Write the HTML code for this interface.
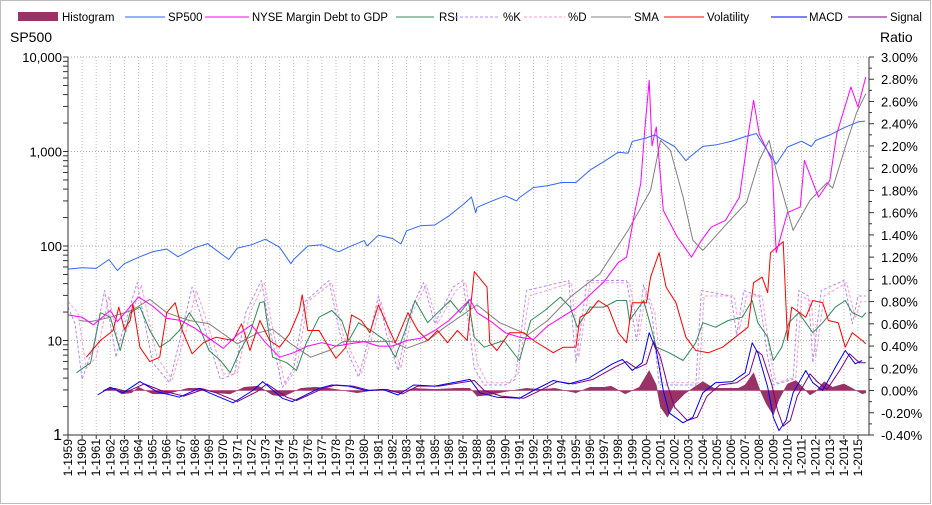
<!DOCTYPE html>
<html><head><meta charset="utf-8"><style>
body{margin:0;background:#fff}
svg{display:block;font-family:"Liberation Sans",sans-serif}
</style></head><body>
<svg id="chart" width="932" height="505" viewBox="0 0 932 505">
<rect x="0.5" y="0.5" width="930" height="503" fill="#fff" stroke="#bdbdbd"/>
<g id="grid"></g>
<g id="series"></g>
<g id="axes"></g>
<g id="legend" font-size="11.5" fill="#000">
  <rect x="18" y="12" width="40" height="9" fill="#993366"/>
  <text x="62" y="21">Histogram</text>
  <line x1="125" y1="17" x2="165" y2="17" stroke="#3366ff"/>
  <text x="168" y="21">SP500</text>
  <line x1="205" y1="17" x2="249" y2="17" stroke="#ff00ff"/>
  <text x="252" y="21" textLength="136" lengthAdjust="spacingAndGlyphs">NYSE Margin Debt to GDP</text>
  <line x1="396" y1="17" x2="434" y2="17" stroke="#2e8b57"/>
  <text x="439" y="21">RSI</text>
  <line x1="455" y1="17" x2="499" y2="17" stroke="#b388ff" stroke-dasharray="3,2"/>
  <text x="503" y="21">%K</text>
  <line x1="524" y1="17" x2="565" y2="17" stroke="#ff99cc" stroke-dasharray="3,2"/>
  <text x="568" y="21">%D</text>
  <line x1="591" y1="17" x2="631" y2="17" stroke="#808080"/>
  <text x="634" y="21">SMA</text>
  <line x1="664" y1="17" x2="704" y2="17" stroke="#ff0000"/>
  <text x="707" y="21">Volatility</text>
  <line x1="771" y1="17" x2="807" y2="17" stroke="#0000ff"/>
  <text x="809" y="21">MACD</text>
  <line x1="848" y1="17" x2="887" y2="17" stroke="#800080"/>
  <text x="890" y="21">Signal</text>
</g>
<text x="10" y="42" font-size="14">SP500</text>
<text x="880" y="42" font-size="14">Ratio</text>
</svg>
<script>
const years = [];for(let y=1959;y<=2015;y++)years.push(y);
const leftTicks=[1,10,100,1000,10000];
const leftTickLabels=["1","10","100","1,000","10,000"];
const rightTicks=[-0.4,-0.2,0,0.2,0.4,0.6,0.8,1.0,1.2,1.4,1.6,1.8,2.0,2.2,2.4,2.6,2.8,3.0];

const spDates=[1959,1960,1961,1961.9,1962.5,1963,1964,1965,1966,1966.8,1967,1968,1968.9,1969,1970.4,1971,1972,1973,1974,1974.8,1975,1976,1977,1978,1978.2,1979,1980,1980.2,1981,1982,1982.6,1983,1984,1985,1986,1987,1987.6,1987.9,1988,1989,1990,1990.8,1991,1992,1993,1994,1995,1996,1997,1998,1998.7,1999,2000,2000.6,2001,2002,2002.8,2003,2004,2005,2006,2007,2007.8,2008,2009,2009.2,2010,2011,2011.7,2012,2013,2014,2015,2015.5];
const spValues=[57,59,58,72,55,65,76,87,93,77,80,96,106,103,72,95,103,118,97,65,72,100,103,89,87,99,114,100,130,120,105,145,164,167,208,274,330,225,257,297,340,300,325,416,435,470,470,636,786,980,960,1280,1394,1500,1366,1130,800,855,1131,1181,1280,1438,1550,1378,825,735,1115,1286,1130,1312,1498,1782,2058,2100];

const marginDates=[1959.0,1960.0,1960.8,1962.0,1962.5,1964.0,1965.0,1966.0,1967.0,1968.0,1969.0,1970.0,1971.0,1972.0,1973.0,1974.0,1975.0,1976.0,1977.0,1978.0,1979.0,1980.0,1981.0,1982.0,1983.0,1984.0,1985.0,1986.0,1987.5,1988.0,1989.0,1990.0,1991.0,1992.0,1993.0,1994.0,1995.0,1996.0,1997.0,1998.0,1998.6,1999.2,1999.6,1999.9,2000.2,2000.4,2000.7,2001.2,2002.2,2003.2,2003.9,2004.6,2005.6,2006.6,2007.3,2007.6,2008.0,2008.9,2009.2,2010.0,2010.9,2011.2,2012.2,2013.0,2013.5,2014.5,2015.0,2015.55];
const marginValues=[0.68,0.66,0.59,0.72,0.62,0.84,0.76,0.65,0.63,0.56,0.47,0.38,0.50,0.59,0.43,0.30,0.34,0.40,0.43,0.40,0.42,0.44,0.40,0.40,0.45,0.47,0.54,0.63,0.82,0.70,0.62,0.52,0.48,0.46,0.58,0.66,0.74,0.86,0.98,1.15,1.20,1.62,1.86,2.37,2.79,2.20,2.37,1.62,1.38,1.20,1.35,1.47,1.53,1.74,2.37,2.61,2.31,2.07,1.24,1.60,1.65,2.07,1.74,1.89,2.31,2.73,2.55,2.82];

const smaDates=[1959.8,1960.6,1962.0,1963.5,1964.8,1966.0,1967.6,1969.0,1971.0,1972.5,1973.5,1974.8,1976.2,1977.5,1978.5,1982.0,1983.0,1984.5,1985.6,1988.0,1989.6,1991.6,1993.0,1994.6,1996.7,1998.7,2000.3,2001.0,2001.7,2002.6,2003.3,2004.0,2005.7,2007.1,2008.0,2008.7,2009.2,2010.4,2011.6,2012.8,2013.2,2014.2,2014.9,2015.55];
const smaValues=[0.63,0.62,0.66,0.72,0.82,0.70,0.63,0.60,0.42,0.52,0.55,0.42,0.30,0.36,0.44,0.44,0.38,0.45,0.56,0.77,0.61,0.50,0.63,0.84,1.05,1.44,1.80,2.25,2.16,1.74,1.35,1.26,1.50,1.69,2.07,2.25,1.98,1.44,1.71,1.87,1.82,2.23,2.50,2.67];

const volDates=[1960.3,1961.3,1962.2,1962.6,1963.0,1963.4,1963.6,1964.1,1964.8,1965.5,1966.0,1966.6,1967.1,1967.8,1968.6,1969.5,1970.7,1971.3,1971.9,1972.6,1973.3,1974.0,1974.7,1975.4,1975.6,1976.0,1976.8,1977.3,1978.0,1978.7,1979.1,1979.8,1980.4,1981.0,1981.7,1982.2,1983.1,1983.8,1984.5,1985.2,1985.9,1986.6,1987.3,1987.8,1988.7,1988.9,1989.4,1990.3,1991.3,1992.0,1993.4,1994.1,1995.0,1995.3,1995.9,1996.6,1997.3,1998.0,1998.6,1999.0,2000.0,2000.3,2000.9,2001.4,2002.1,2002.8,2003.5,2004.4,2005.4,2006.3,2007.2,2007.6,2008.2,2008.6,2008.8,2009.7,2010.0,2010.3,2011.3,2011.8,2012.5,2012.9,2013.6,2014.1,2014.6,2015.3,2015.55];
const volValues=[0.30,0.45,0.54,0.75,0.55,0.63,0.78,0.39,0.26,0.30,0.70,0.79,0.54,0.33,0.43,0.48,0.45,0.60,0.36,0.63,0.45,0.39,0.51,0.72,0.86,0.54,0.54,0.43,0.29,0.39,0.68,0.63,0.52,0.77,0.57,0.43,0.70,0.54,0.45,0.54,0.43,0.54,0.45,1.07,0.93,0.43,0.36,0.52,0.52,0.45,0.34,0.39,0.39,0.66,0.70,0.81,0.75,0.52,0.43,0.79,0.79,1.02,1.24,0.93,0.79,0.48,0.36,0.34,0.39,0.48,0.57,0.97,1.02,0.88,1.24,1.34,0.45,0.75,0.66,0.81,0.79,0.63,0.61,0.39,0.52,0.45,0.42];

const rsiDates=[1959.6,1960.6,1961.3,1962.0,1962.7,1963.4,1964.1,1964.8,1965.5,1966.2,1966.9,1967.6,1968.3,1969.0,1969.8,1970.5,1971.2,1971.9,1972.6,1972.9,1973.5,1974.5,1975.2,1975.9,1976.8,1977.7,1978.4,1978.9,1979.6,1980.5,1981.5,1982.2,1982.9,1983.6,1984.5,1985.2,1986.1,1986.8,1987.4,1987.8,1988.5,1989.9,1991.0,1991.8,1992.8,1993.9,1994.6,1995.1,1996.0,1997.0,1997.9,1998.6,1998.8,1999.8,2000.2,2000.7,2001.6,2002.6,2003.5,2004.0,2004.9,2005.8,2006.8,2007.5,2007.9,2008.6,2009.0,2009.6,2010.1,2010.8,2011.8,2012.5,2013.4,2014.1,2014.6,2015.3,2015.55];
const rsiValues=[0.16,0.25,0.70,0.66,0.36,0.70,0.75,0.54,0.39,0.45,0.54,0.70,0.57,0.36,0.27,0.16,0.36,0.52,0.79,0.80,0.30,0.25,0.18,0.43,0.66,0.72,0.63,0.45,0.61,0.54,0.45,0.30,0.54,0.81,0.61,0.70,0.81,0.70,0.80,0.48,0.39,0.45,0.27,0.63,0.72,0.84,0.75,0.57,0.75,0.75,0.81,0.81,0.63,0.81,0.63,0.39,0.34,0.27,0.43,0.61,0.57,0.63,0.66,0.81,0.61,0.48,0.27,0.39,0.61,0.70,0.52,0.61,0.75,0.81,0.70,0.66,0.70];

const kDates=[1959.0,1959.5,1960.0,1960.8,1961.6,1962.4,1962.8,1963.9,1965.0,1966.2,1967.0,1967.8,1968.6,1969.8,1970.8,1971.6,1972.7,1973.4,1974.2,1975.0,1975.8,1977.5,1978.3,1979.6,1980.4,1981.0,1981.6,1982.4,1983.2,1984.2,1985.0,1986.3,1987.0,1987.8,1988.5,1990.0,1990.7,1991.5,1994.5,1995.0,1995.8,1998.6,1999.3,1999.8,2000.4,2000.9,2003.5,2003.9,2006.0,2006.4,2006.9,2008.0,2008.6,2009.0,2010.4,2010.8,2011.5,2011.8,2012.4,2014.0,2014.6,2015.0,2015.55];
const kValues=[0.75,0.6,0.10,0.4,0.90,0.3,0.5,0.97,0.25,0.07,0.5,0.93,0.6,0.10,0.15,0.7,0.99,0.5,0.03,0.2,0.8,0.99,0.5,0.12,0.5,0.85,0.5,0.18,0.7,0.97,0.6,0.93,0.99,0.2,0.05,0.05,0.1,0.9,0.99,0.25,0.99,0.99,0.45,0.95,0.7,0.05,0.05,0.9,0.85,0.5,0.9,0.85,0.3,0.05,0.1,0.9,0.85,0.25,0.9,0.99,0.6,0.85,0.85];

const dDates=[1959.0,1959.7,1960.3,1961.0,1961.9,1962.6,1963.2,1964.2,1965.3,1966.4,1967.3,1968.1,1968.9,1970.0,1971.0,1971.9,1972.9,1973.6,1974.4,1975.2,1976.0,1977.7,1978.5,1979.8,1980.6,1981.2,1981.8,1982.6,1983.4,1984.4,1985.2,1986.5,1987.2,1988.0,1988.7,1990.2,1990.9,1991.7,1994.7,1995.2,1996.0,1998.8,1999.5,2000.0,2000.6,2001.1,2003.7,2004.1,2006.2,2006.6,2007.1,2008.2,2008.8,2009.2,2010.6,2011.0,2011.7,2012.0,2012.6,2014.2,2014.8,2015.2,2015.55];
const dValues=[0.8,0.7,0.2,0.3,0.85,0.4,0.55,0.95,0.3,0.1,0.5,0.9,0.6,0.15,0.15,0.7,0.97,0.5,0.05,0.2,0.8,0.97,0.5,0.15,0.5,0.8,0.5,0.2,0.7,0.95,0.6,0.9,0.97,0.25,0.07,0.07,0.15,0.85,0.97,0.3,0.97,0.97,0.5,0.9,0.7,0.07,0.07,0.85,0.85,0.55,0.85,0.85,0.3,0.07,0.12,0.85,0.8,0.3,0.85,0.97,0.65,0.8,0.8];

const macdDates=[1961.1,1962.0,1962.9,1964.1,1965.3,1966.9,1968.3,1969.2,1970.7,1972.1,1972.8,1974.2,1974.9,1976.8,1977.7,1978.9,1980.1,1981.3,1982.4,1983.5,1985.0,1987.5,1988.2,1989.4,1991.0,1992.0,1993.4,1994.5,1995.9,1997.6,1998.3,1999.0,1999.7,2000.2,2000.7,2001.2,2001.6,2002.6,2003.3,2004.0,2004.9,2006.1,2007.0,2007.5,2007.9,2008.6,2009.0,2009.4,2009.9,2010.4,2011.3,2011.8,2012.5,2013.4,2014.1,2014.8,2015.3];
const macdValues=[-0.04,0.03,-0.02,0.08,-0.01,-0.06,0.02,-0.03,-0.11,0.0,0.08,-0.07,-0.10,0.02,0.05,0.04,0.0,0.01,-0.04,0.05,0.04,0.10,-0.02,-0.06,-0.07,0.0,0.09,0.06,0.11,0.24,0.28,0.18,0.25,0.52,0.36,0.0,-0.20,-0.29,-0.24,-0.02,0.07,0.08,0.16,0.43,0.34,0.03,-0.24,-0.36,-0.27,-0.02,0.18,0.07,0.0,0.21,0.36,0.24,0.27];

const signalDates=[1961.5,1962.3,1963.2,1964.4,1965.6,1967.2,1968.6,1969.5,1971.0,1972.4,1973.1,1974.5,1975.2,1977.1,1978.0,1979.2,1980.4,1981.6,1982.7,1983.8,1985.3,1987.8,1988.5,1989.7,1991.3,1992.3,1993.7,1994.8,1996.2,1997.9,1998.6,1999.3,2000.0,2000.5,2001.0,2001.5,2002.0,2002.9,2003.6,2004.3,2005.2,2006.4,2007.3,2007.8,2008.2,2008.9,2009.3,2009.7,2010.2,2010.7,2011.6,2012.1,2012.8,2013.7,2014.4,2015.1,2015.55];
const signalValues=[0.0,0.02,-0.01,0.06,0.0,-0.05,0.01,-0.02,-0.10,-0.01,0.06,-0.06,-0.09,0.02,0.05,0.04,0.0,0.01,-0.03,0.04,0.04,0.09,0.0,-0.05,-0.07,-0.01,0.08,0.06,0.10,0.22,0.26,0.20,0.24,0.44,0.30,0.05,-0.15,-0.27,-0.24,-0.05,0.05,0.07,0.15,0.36,0.32,0.05,-0.18,-0.32,-0.27,-0.05,0.15,0.08,0.01,0.18,0.33,0.25,0.25];

const histDates=[1961.5,1962.0,1962.8,1963.5,1964.0,1965.0,1966.0,1967.5,1968.5,1969.5,1970.5,1971.5,1972.5,1973.5,1974.3,1975.5,1976.5,1977.5,1978.5,1979.5,1981.0,1982.5,1983.5,1985.0,1986.5,1987.5,1988.0,1988.8,1990.0,1991.5,1992.5,1993.5,1995.0,1996.0,1997.0,1997.5,1998.5,1999.5,2000.2,2000.7,2001.0,2001.5,2002.0,2002.7,2003.5,2004.0,2004.8,2005.5,2006.5,2007.0,2007.6,2008.0,2008.5,2009.0,2009.4,2010.0,2010.6,2011.0,2011.6,2012.0,2012.6,2013.2,2014.0,2014.6,2015.3,2015.55];
const histValues=[0.0,0.03,-0.03,-0.02,0.03,-0.03,-0.03,0.02,0.02,-0.02,-0.03,0.03,0.04,-0.04,-0.05,0.02,0.03,0.02,0.0,-0.02,0.01,-0.02,0.02,0.01,0.02,0.02,-0.05,-0.04,-0.01,0.02,0.01,0.02,-0.02,0.03,0.03,0.04,-0.03,0.03,0.18,0.05,-0.15,-0.24,-0.12,-0.03,0.04,0.08,0.02,0.02,0.02,0.05,0.16,0.02,-0.12,-0.22,-0.08,0.06,0.09,0.04,-0.04,-0.01,0.08,0.03,0.06,0.02,-0.03,-0.02];

const X0=68, YEARPX=14.107, PL=68, PR=869, PT=57, PB=435;
function xs(t){return X0+(t-1959)*YEARPX;}
function yL(v){return PB-Math.log10(v)*94.5;}
function yR(v){return PB-(v+0.4)*(PB-PT)/3.4;}
const NS="http://www.w3.org/2000/svg";
function mk(tag,attrs,parent){const e=document.createElementNS(NS,tag);for(const k in attrs)e.setAttribute(k,attrs[k]);parent.appendChild(e);return e;}
const grid=document.getElementById('grid'),ser=document.getElementById('series'),axes=document.getElementById('axes');

years.forEach(y=>{
  const l=mk('line',{x1:xs(y),x2:xs(y),y1:PT,y2:PB,stroke:'#bbb','stroke-dasharray':'1,2'},grid);
  
  
});
leftTicks.forEach(v=>{
  if(v===1)return;
  const l=mk('line',{x1:PL,x2:PR,y1:yL(v),y2:yL(v),stroke:'#aaa','stroke-dasharray':'1,2'},grid);
  
  
});

function line(dates,vals,fy,color,name,dash,w){
  const pts=dates.map((d,i)=>xs(d).toFixed(1)+','+fy(vals[i]).toFixed(1)).join(' ');
  const p=mk('polyline',{points:pts,fill:'none',stroke:color,'stroke-width':w||1,'stroke-linejoin':'round'},ser);
  if(dash)p.setAttribute('stroke-dasharray',dash);
  
  
}
{
  let pts=xs(histDates[0]).toFixed(1)+','+yR(0).toFixed(1)+' ';
  pts+=histDates.map((d,i)=>xs(d).toFixed(1)+','+yR(histValues[i]).toFixed(1)).join(' ');
  pts+=' '+xs(histDates[histDates.length-1]).toFixed(1)+','+yR(0).toFixed(1);
  const h=mk('polygon',{points:pts,fill:'#993366',stroke:'#993366','stroke-width':0.5},ser);
  
  
}
line(kDates,kValues,yR,'#b388ff','k-series','3,2');
line(dDates,dValues,yR,'#ff99cc','d-series','3,2');
line(rsiDates,rsiValues,yR,'#2e8b57','rsi-series');
line(smaDates,smaValues,yR,'#808080','sma-series');
line(volDates,volValues,yR,'#ff0000','volatility-series');
line(signalDates,signalValues,yR,'#800080','signal-series');
line(macdDates,macdValues,yR,'#0000ff','macd-series');
line(marginDates,marginValues,yR,'#ff00ff','margin-debt-series');
line(spDates,spValues,yL,'#3366ff','sp500-series');

let a=mk('line',{x1:PL,x2:PL,y1:PT,y2:PB,stroke:'#333'},axes);

a=mk('line',{x1:PR,x2:PR,y1:PT,y2:PB,stroke:'#333'},axes);

a=mk('line',{x1:PL,x2:PR,y1:PB,y2:PB,stroke:'#333'},axes);

leftTicks.forEach((v,i)=>{
  const t=mk('text',{x:62,y:yL(v)+5,'text-anchor':'end','font-size':v===1?16:13},axes);
  t.textContent=leftTickLabels[i];
  
  
  if(v<10000){for(let m=2;m<=9;m++){const y=yL(v*m);const tk=mk('line',{x1:PL-5,x2:PL,y1:y,y2:y,stroke:'#333'},axes);
    
    }}
  const tk=mk('line',{x1:PL-5,x2:PL,y1:yL(v),y2:yL(v),stroke:'#333'},axes);
  
  
});
rightTicks.forEach(v=>{
  const y=yR(v);
  const t=mk('text',{x:881,y:y+5,'font-size':13},axes);
  t.textContent=v.toFixed(2)+'%';
  
  
  const tk=mk('line',{x1:PR,x2:PR+5,y1:y,y2:y,stroke:'#333'},axes);
  
  
  if(v<3){const ym=yR(v+0.1);const mt=mk('line',{x1:PR,x2:PR+3,y1:ym,y2:ym,stroke:'#333'},axes);
    
    }
});
years.forEach(y=>{
  const x=xs(y);
  const tk=mk('line',{x1:x,x2:x,y1:PB,y2:PB+4,stroke:'#333'},axes);
  
  
  const t=mk('text',{x:0,y:0,'text-anchor':'end','font-size':12,transform:`translate(${x+4},439) rotate(-90)`},axes);
  t.textContent='1-'+y;
  
  
});
</script>
</body></html>
